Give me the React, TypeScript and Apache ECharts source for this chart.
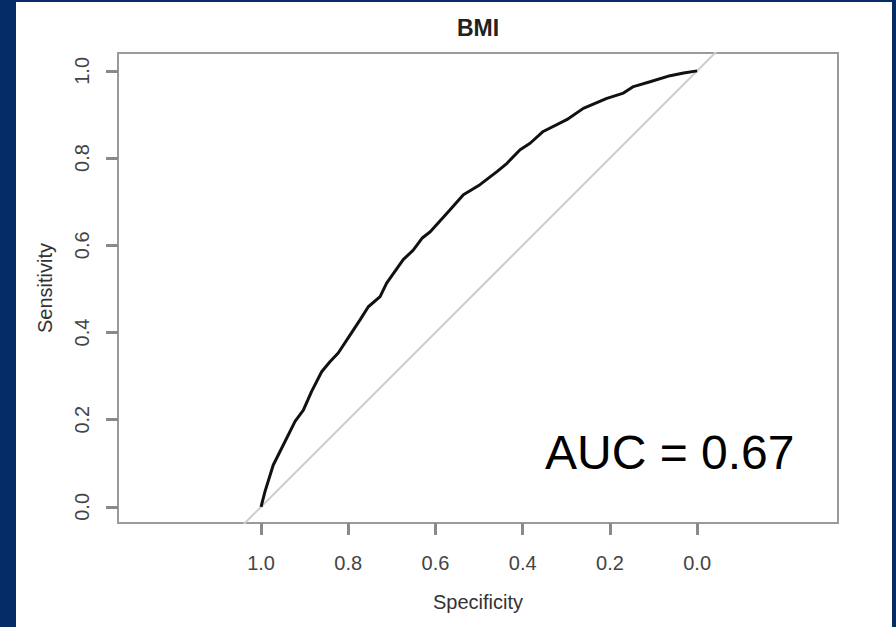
import React, { useEffect, useRef } from "react";
import * as echarts from "echarts";

// ROC curve: [specificity, sensitivity]
const rocSpecificity = [
  1.0, 0.991, 0.972, 0.949, 0.922, 0.903, 0.884, 0.861, 0.842, 0.823, 0.796, 0.773,
  0.754, 0.727, 0.712, 0.674, 0.651, 0.631, 0.612, 0.567, 0.536, 0.498, 0.459, 0.436,
  0.406, 0.383, 0.353, 0.299, 0.261, 0.207, 0.169, 0.146, 0.108, 0.062, 0.031, 0.0,
];
const rocSensitivity = [
  0.0, 0.035, 0.096, 0.142, 0.196, 0.222, 0.265, 0.31, 0.333, 0.353, 0.394, 0.429,
  0.459, 0.482, 0.513, 0.567, 0.589, 0.616, 0.631, 0.681, 0.716, 0.739, 0.769, 0.788,
  0.819, 0.834, 0.861, 0.888, 0.914, 0.937, 0.949, 0.964, 0.975, 0.989, 0.995, 1.0,
];
// chance diagonal (sensitivity = 1 - specificity), clipped by the plot box
const diagSpecificity = [1.5, -0.5];
const diagSensitivity = [-0.5, 1.5];

const tickValues = [0, 0.2, 0.4, 0.6, 0.8, 1.0];
const titleText = "BMI";
const xName = "Specificity";
const yName = "Sensitivity";
const aucText = "AUC = 0.67";

const FONT = "'Liberation Sans', Arial, Helvetica, sans-serif";

export default function App() {
  const ref = useRef<HTMLDivElement>(null);

  useEffect(() => {
    document.body.style.margin = "0";
    if (!ref.current) return;
    const chart = echarts.init(ref.current, undefined, { renderer: "svg" });

    const rocData = rocSpecificity.map((s, i) => [s, rocSensitivity[i]]);
    const diagData = diagSpecificity.map((s, i) => [s, diagSensitivity[i]]);

    const tickStyle = { color: "#8a8a8a", width: 3 };

    chart.setOption({
      animation: false,
      backgroundColor: "transparent",
      title: {
        text: titleText,
        left: 478,
        top: 16,
        textAlign: "center",
        padding: 0,
        textStyle: { fontFamily: FONT, fontSize: 23, fontWeight: "bold", color: "#222" },
      },
      grid: {
        left: 118,
        top: 53,
        right: 58,
        bottom: 104,
        show: true,
        borderColor: "#9a9a9a",
        borderWidth: 2,
        backgroundColor: "transparent",
      },
      xAxis: {
        type: "value",
        splitLine: { show: false },
        axisLine: { show: true, onZero: false, lineStyle: { color: "#9a9a9a", width: 2 } },
        axisTick: { show: true, customValues: tickValues, length: 12, lineStyle: tickStyle },
        inverse: true,
        min: -0.323,
        max: 1.328,
        name: xName,
        nameLocation: "middle",
        nameGap: 69,
        nameTextStyle: { fontFamily: FONT, fontSize: 20, color: "#333" },
        axisLabel: {
          customValues: tickValues,
          margin: 30,
          fontFamily: FONT,
          fontSize: 20,
          color: "#444",
          formatter: (v: number) => v.toFixed(1),
        },
      },
      yAxis: {
        type: "value",
        splitLine: { show: false },
        axisLine: { show: true, onZero: false, lineStyle: { color: "#9a9a9a", width: 2 } },
        axisTick: { show: true, customValues: tickValues, length: 12, lineStyle: tickStyle },
        min: -0.037,
        max: 1.041,
        name: yName,
        nameLocation: "middle",
        nameGap: 63,
        nameTextStyle: { fontFamily: FONT, fontSize: 20, color: "#333" },
        axisLabel: {
          customValues: tickValues,
          rotate: 90,
          margin: 26,
          fontFamily: FONT,
          fontSize: 20,
          color: "#444",
          formatter: (v: number) => v.toFixed(1),
        },
      },
      graphic: [
        {
          type: "text",
          left: 545,
          top: 428,
          style: { text: aucText, fontFamily: FONT, fontSize: 48, fill: "#000" },
        },
      ],
      series: [
        {
          type: "line",
          data: diagData,
          showSymbol: false,
          clip: true,
          lineStyle: { color: "#cccccc", width: 2 },
          z: 1,
        },
        {
          type: "line",
          data: rocData,
          showSymbol: false,
          clip: true,
          lineStyle: { color: "#111", width: 3 },
          z: 2,
        },
      ],
    });

    return () => chart.dispose();
  }, []);

  return (
    <div style={{ position: "relative", width: 896, height: 627, background: "#062c68" }}>
      <div
        style={{ position: "absolute", left: 16, top: 2, width: 876, height: 625, background: "#fff" }}
      />
      <div ref={ref} style={{ position: "absolute", left: 0, top: 0, width: 896, height: 627 }} />
    </div>
  );
}
